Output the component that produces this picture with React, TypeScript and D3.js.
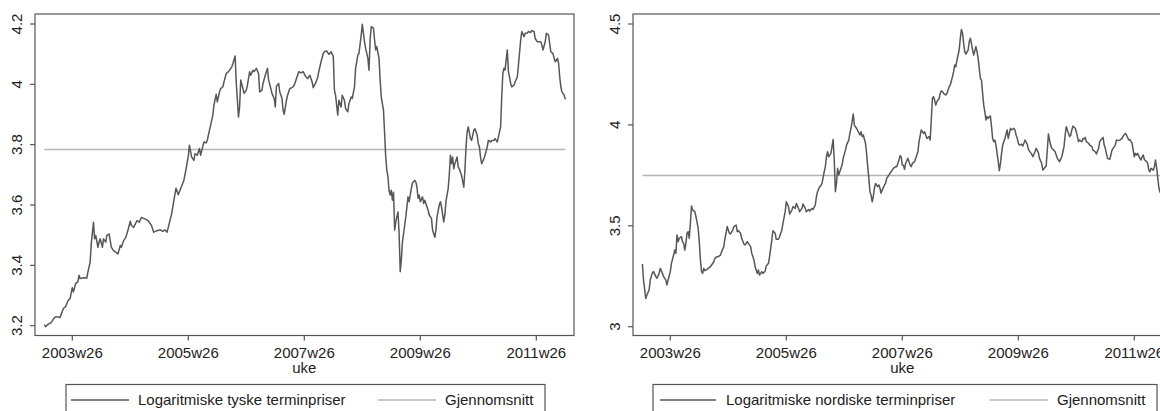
import React from "react";
import * as d3 from "d3";

// week index = weeks since 2003w1 (Stata weekly, 52 weeks/year)
const tyske: [number, number][] = [[0,3.204],[1,3.197],[3,3.204],[6,3.21],[9,3.227],[11,3.23],[14,3.227],[17,3.257],[19,3.263],[21,3.282],[23,3.29],[25,3.326],[26,3.312],[28,3.34],[30,3.345],[31,3.367],[32,3.356],[35,3.359],[38,3.358],[39,3.378],[41,3.411],[42,3.471],[44,3.543],[45,3.488],[46,3.499],[48,3.46],[49,3.477],[50,3.488],[52,3.46],[53,3.488],[55,3.477],[56,3.499],[58,3.504],[59,3.482],[60,3.46],[62,3.449],[64,3.444],[66,3.438],[68,3.466],[69,3.46],[71,3.482],[73,3.493],[75,3.518],[77,3.546],[78,3.532],[80,3.526],[83,3.548],[85,3.543],[87,3.559],[90,3.554],[93,3.548],[96,3.532],[98,3.51],[101,3.515],[104,3.518],[106,3.513],[108,3.518],[110,3.51],[112,3.54],[114,3.57],[116,3.614],[118,3.656],[120,3.634],[122,3.653],[125,3.681],[127,3.72],[129,3.761],[130,3.798],[132,3.759],[134,3.748],[135,3.77],[137,3.765],[139,3.787],[140,3.765],[143,3.809],[145,3.806],[146,3.814],[148,3.848],[149,3.864],[151,3.898],[152,3.931],[154,3.967],[155,3.942],[157,3.975],[158,3.986],[160,3.992],[161,4.008],[163,4.036],[165,4.042],[166,4.047],[168,4.058],[169,4.069],[171,4.094],[172,4.003],[174,3.892],[175,3.925],[176,4.014],[178,3.986],[179,3.97],[181,3.981],[182,3.997],[184,4.042],[185,4.03],[187,4.047],[188,4.042],[190,4.053],[192,4.036],[193,3.975],[195,3.981],[196,4.003],[198,4.03],[200,4.053],[201,4.014],[203,3.986],[204,3.97],[206,3.953],[207,3.925],[208,3.994],[210,4.003],[211,3.975],[213,3.953],[214,3.914],[215,3.901],[217,3.947],[218,3.964],[220,3.986],[222,3.989],[224,3.997],[226,4.019],[228,4.042],[230,4.038],[232,4.042],[234,4.027],[236,4.019],[238,4.03],[240,4.008],[241,3.989],[243,4.003],[245,4.023],[246,4.042],[248,4.075],[250,4.102],[251,4.108],[253,4.111],[255,4.099],[257,4.108],[259,4.092],[260,3.981],[261,3.964],[263,3.898],[264,3.947],[266,3.925],[267,3.964],[269,3.947],[270,3.92],[272,3.909],[273,3.936],[275,3.958],[276,3.953],[278,3.992],[279,4.053],[281,4.097],[282,4.102],[284,4.163],[285,4.199],[287,4.141],[288,4.119],[290,4.086],[291,4.047],[292,4.147],[293,4.191],[295,4.186],[296,4.147],[297,4.114],[298,4.125],[300,4.086],[301,4.014],[302,3.958],[303,3.936],[304,3.914],[305,3.837],[306,3.759],[307,3.715],[308,3.693],[309,3.648],[310,3.633],[311,3.649],[312,3.616],[313,3.642],[314,3.517],[315,3.544],[317,3.577],[318,3.506],[319,3.379],[320,3.418],[321,3.478],[323,3.533],[324,3.561],[325,3.594],[326,3.627],[327,3.611],[329,3.655],[330,3.673],[332,3.682],[333,3.676],[334,3.66],[335,3.622],[336,3.633],[337,3.611],[339,3.627],[340,3.605],[341,3.616],[342,3.605],[344,3.583],[345,3.567],[347,3.556],[348,3.517],[350,3.493],[351,3.517],[352,3.561],[354,3.6],[355,3.611],[356,3.594],[358,3.544],[359,3.567],[360,3.611],[362,3.655],[363,3.7],[364,3.765],[365,3.737],[366,3.759],[367,3.72],[368,3.737],[370,3.759],[371,3.726],[372,3.72],[374,3.698],[376,3.659],[377,3.715],[378,3.792],[379,3.842],[380,3.859],[382,3.82],[383,3.814],[384,3.831],[385,3.848],[386,3.853],[388,3.831],[389,3.803],[390,3.792],[391,3.759],[392,3.737],[394,3.753],[395,3.765],[397,3.792],[398,3.814],[400,3.809],[401,3.814],[403,3.814],[404,3.82],[406,3.809],[407,3.825],[409,3.859],[410,3.958],[411,4.036],[412,4.053],[413,4.047],[415,4.114],[416,4.042],[417,4.025],[418,4.003],[419,3.992],[421,3.997],[422,4.008],[424,4.025],[425,4.064],[427,4.147],[428,4.175],[430,4.158],[431,4.169],[433,4.17],[434,4.175],[436,4.172],[437,4.178],[439,4.175],[440,4.152],[442,4.141],[443,4.141],[445,4.141],[446,4.13],[447,4.114],[449,4.141],[450,4.169],[452,4.163],[453,4.136],[454,4.108],[456,4.102],[457,4.086],[458,4.075],[460,4.086],[461,4.069],[462,4.025],[463,3.992],[464,3.975],[466,3.964],[467,3.95]];

const nordiske: [number, number][] = [[0,3.311],[1,3.231],[3,3.14],[4,3.157],[6,3.182],[7,3.231],[9,3.268],[10,3.273],[12,3.248],[13,3.24],[15,3.264],[16,3.289],[18,3.264],[19,3.248],[21,3.231],[22,3.207],[23,3.231],[25,3.273],[26,3.314],[28,3.355],[29,3.38],[30,3.364],[31,3.455],[32,3.421],[33,3.438],[35,3.446],[36,3.421],[37,3.413],[38,3.38],[39,3.413],[40,3.463],[41,3.471],[42,3.438],[43,3.512],[44,3.598],[45,3.579],[47,3.57],[48,3.545],[50,3.488],[51,3.421],[52,3.331],[53,3.273],[54,3.264],[55,3.289],[56,3.278],[58,3.284],[59,3.289],[61,3.298],[62,3.306],[64,3.322],[65,3.339],[67,3.347],[68,3.347],[70,3.355],[71,3.372],[73,3.397],[74,3.438],[75,3.463],[76,3.496],[78,3.463],[79,3.46],[81,3.479],[82,3.496],[84,3.504],[85,3.471],[86,3.476],[88,3.463],[89,3.438],[91,3.41],[92,3.405],[94,3.421],[95,3.413],[97,3.397],[98,3.364],[100,3.331],[101,3.298],[103,3.264],[104,3.281],[105,3.256],[107,3.273],[108,3.264],[110,3.275],[111,3.3],[113,3.314],[114,3.347],[116,3.429],[117,3.476],[119,3.463],[120,3.433],[122,3.433],[123,3.446],[125,3.479],[126,3.512],[128,3.57],[129,3.619],[131,3.595],[132,3.558],[134,3.578],[135,3.595],[137,3.586],[138,3.611],[140,3.586],[141,3.57],[143,3.586],[144,3.608],[146,3.586],[147,3.57],[149,3.581],[150,3.573],[152,3.586],[153,3.581],[155,3.603],[156,3.644],[157,3.669],[159,3.694],[160,3.699],[161,3.71],[163,3.768],[164,3.793],[165,3.842],[166,3.867],[167,3.842],[169,3.859],[170,3.892],[171,3.928],[172,3.826],[173,3.669],[174,3.71],[175,3.785],[176,3.752],[178,3.785],[179,3.801],[180,3.834],[182,3.875],[183,3.9],[185,3.925],[186,3.958],[187,3.983],[188,4.016],[189,4.054],[190,3.999],[191,3.991],[192,3.983],[194,3.961],[195,3.95],[196,3.966],[197,3.942],[198,3.95],[200,3.909],[201,3.859],[202,3.793],[203,3.735],[204,3.669],[205,3.652],[206,3.619],[207,3.644],[208,3.686],[209,3.71],[211,3.694],[212,3.702],[213,3.686],[214,3.661],[215,3.677],[217,3.702],[218,3.71],[219,3.735],[220,3.743],[221,3.752],[223,3.768],[224,3.776],[225,3.785],[227,3.793],[228,3.793],[230,3.826],[231,3.847],[232,3.842],[233,3.801],[234,3.8],[235,3.78],[236,3.809],[238,3.834],[239,3.818],[240,3.801],[241,3.793],[242,3.809],[244,3.818],[245,3.834],[246,3.851],[247,3.867],[248,3.917],[250,3.975],[251,3.966],[252,3.958],[253,3.966],[254,3.95],[255,3.933],[257,3.942],[258,3.925],[259,4.024],[260,4.131],[261,4.14],[262,4.123],[263,4.098],[264,4.115],[266,4.131],[267,4.156],[268,4.169],[269,4.165],[270,4.156],[272,4.148],[273,4.156],[274,4.173],[275,4.189],[276,4.198],[278,4.239],[279,4.264],[280,4.297],[281,4.288],[282,4.321],[284,4.371],[285,4.429],[286,4.473],[287,4.454],[288,4.404],[289,4.363],[290,4.351],[292,4.371],[293,4.412],[294,4.429],[295,4.404],[296,4.371],[297,4.346],[299,4.388],[300,4.363],[301,4.33],[302,4.28],[303,4.231],[304,4.222],[305,4.156],[306,4.098],[307,4.065],[308,4.024],[309,4.041],[310,4.032],[311,4.041],[312,4.044],[313,3.991],[314,3.933],[315,3.917],[316,3.925],[317,3.9],[318,3.859],[319,3.818],[320,3.773],[321,3.809],[322,3.859],[323,3.9],[324,3.917],[325,3.933],[327,3.975],[328,3.933],[329,3.958],[330,3.983],[331,3.975],[333,3.983],[334,3.975],[335,3.95],[336,3.935],[337,3.91],[338,3.9],[340,3.905],[341,3.895],[342,3.909],[343,3.925],[345,3.905],[346,3.88],[347,3.87],[349,3.855],[350,3.842],[352,3.867],[353,3.884],[355,3.862],[356,3.834],[358,3.809],[359,3.776],[361,3.79],[362,3.796],[364,3.955],[365,3.925],[366,3.9],[367,3.884],[368,3.879],[370,3.867],[371,3.851],[372,3.834],[373,3.826],[374,3.818],[376,3.842],[377,3.867],[378,3.892],[379,3.95],[380,3.991],[382,3.958],[383,3.942],[384,3.95],[385,3.975],[386,3.994],[388,3.983],[389,3.966],[390,3.942],[391,3.917],[392,3.925],[394,3.917],[395,3.933],[396,3.93],[397,3.938],[398,3.917],[400,3.909],[401,3.9],[403,3.892],[404,3.875],[406,3.867],[407,3.856],[409,3.884],[410,3.917],[411,3.925],[413,3.938],[414,3.9],[415,3.884],[416,3.859],[417,3.834],[419,3.829],[420,3.851],[421,3.875],[422,3.884],[424,3.9],[425,3.925],[427,3.922],[428,3.925],[430,3.933],[431,3.945],[433,3.958],[434,3.95],[436,3.925],[437,3.928],[439,3.909],[440,3.875],[441,3.842],[442,3.859],[443,3.851],[444,3.859],[446,3.834],[447,3.826],[448,3.842],[449,3.851],[450,3.829],[452,3.818],[453,3.809],[454,3.776],[455,3.768],[456,3.785],[458,3.776],[459,3.793],[460,3.826],[461,3.79],[462,3.74],[463,3.69],[464,3.665]];

const meanTyske = 3.784;
const meanNordiske = 3.749;
const meanSpan = [0, 467];

const xTickWeeks = [25, 129, 233, 337, 441];
const xTickLabels = ["2003w26", "2005w26", "2007w26", "2009w26", "2011w26"];

const yTicksTyske = [3.2, 3.4, 3.6, 3.8, 4, 4.2];
const yTickLabelsTyske = ["3.2", "3.4", "3.6", "3.8", "4", "4.2"];
const yTicksNordiske = [3, 3.5, 4, 4.5];
const yTickLabelsNordiske = ["3", "3.5", "4", "4.5"];

const xTitle = "uke";
const legendTyske = ["Logaritmiske tyske terminpriser", "Gjennomsnitt"];
const legendNordiske = ["Logaritmiske nordiske terminpriser", "Gjennomsnitt"];

const FONT = "'Liberation Sans', Arial, Helvetica, sans-serif";
const LINE = "#575757";
const MEAN = "#b4b4b4";
const AXIS = "#555555";

type PanelProps = {
  dx: number;
  data: [number, number][];
  mean: number;
  yDomain: [number, number];
  yRange: [number, number];
  yTicks: number[];
  yTickLabels: string[];
  legend: string[];
  lg: { box: [number, number]; s1: [number, number]; t1: number; s2: [number, number]; t2: number };
};

function Panel({ dx, data, mean, yDomain, yRange, yTicks, yTickLabels, legend, lg }: PanelProps) {
  const fx0 = 35 + dx, fx1 = 574 + dx, fy0 = 14, fy1 = 335.5;
  const x = d3.scaleLinear().domain([25, 441]).range([72.3 + dx, 536.3 + dx]);
  const y = d3.scaleLinear().domain(yDomain).range(yRange);
  const line = d3.line<[number, number]>().x((d) => x(d[0])).y((d) => y(d[1]));
  const cx = x(233);
  return (
    <g>
      <rect x={fx0} y={fy0} width={fx1 - fx0} height={fy1 - fy0} fill="none" stroke={AXIS} strokeWidth={1.2} />
      {yTicks.map((t, i) => (
        <g key={"y" + i}>
          <line x1={fx0 - 5} x2={fx0} y1={y(t)} y2={y(t)} stroke={AXIS} strokeWidth={1.2} />
          <text
            transform={`translate(${fx0 - 13},${y(t)}) rotate(-90)`}
            textAnchor="middle"
            fontFamily={FONT}
            fontSize={15}
            fill="#222"
          >
            {yTickLabels[i]}
          </text>
        </g>
      ))}
      {xTickWeeks.map((t, i) => (
        <g key={"x" + i}>
          <line x1={x(t)} x2={x(t)} y1={fy1} y2={fy1 + 5} stroke={AXIS} strokeWidth={1.2} />
          <text x={x(t)} y={357.5} textAnchor="middle" fontFamily={FONT} fontSize={15} fill="#222">
            {xTickLabels[i]}
          </text>
        </g>
      ))}
      <text x={cx} y={373} textAnchor="middle" fontFamily={FONT} fontSize={15} fill="#222">
        {xTitle}
      </text>
      <line
        x1={x(meanSpan[0])}
        x2={x(meanSpan[1])}
        y1={y(mean)}
        y2={y(mean)}
        stroke={MEAN}
        strokeWidth={1.6}
      />
      <path d={line(data) || ""} fill="none" stroke={LINE} strokeWidth={1.5} strokeLinejoin="round" />
      <rect x={lg.box[0]} y={384.5} width={lg.box[1] - lg.box[0]} height={40} fill="none" stroke={AXIS} strokeWidth={1.2} />
      <line x1={lg.s1[0]} x2={lg.s1[1]} y1={400} y2={400} stroke={LINE} strokeWidth={1.5} />
      <text x={lg.t1} y={405} fontFamily={FONT} fontSize={15} fill="#222">
        {legend[0]}
      </text>
      <line x1={lg.s2[0]} x2={lg.s2[1]} y1={400} y2={400} stroke={MEAN} strokeWidth={1.6} />
      <text x={lg.t2} y={405} fontFamily={FONT} fontSize={15} fill="#222">
        {legend[1]}
      </text>
    </g>
  );
}

export default function App() {
  return (
    <svg
      width={1160}
      height={411}
      style={{ position: "absolute", left: 0, top: 0, background: "#fff" }}
    >
      <rect x={0} y={0} width={1160} height={411} fill="#fff" />
      <Panel
        dx={0}
        data={tyske}
        mean={meanTyske}
        yDomain={[3.2, 4.2]}
        yRange={[325.7, 24]}
        yTicks={yTicksTyske}
        yTickLabels={yTickLabelsTyske}
        legend={legendTyske}
        lg={{ box: [66, 545], s1: [71, 129], t1: 138, s2: [378, 436], t2: 445 }}
      />
      <Panel
        dx={598}
        data={nordiske}
        mean={meanNordiske}
        yDomain={[3, 4.5]}
        yRange={[326.7, 24]}
        yTicks={yTicksNordiske}
        yTickLabels={yTickLabelsNordiske}
        legend={legendNordiske}
        lg={{ box: [653, 1157], s1: [660, 716], t1: 726, s2: [990, 1048], t2: 1057 }}
      />
    </svg>
  );
}
